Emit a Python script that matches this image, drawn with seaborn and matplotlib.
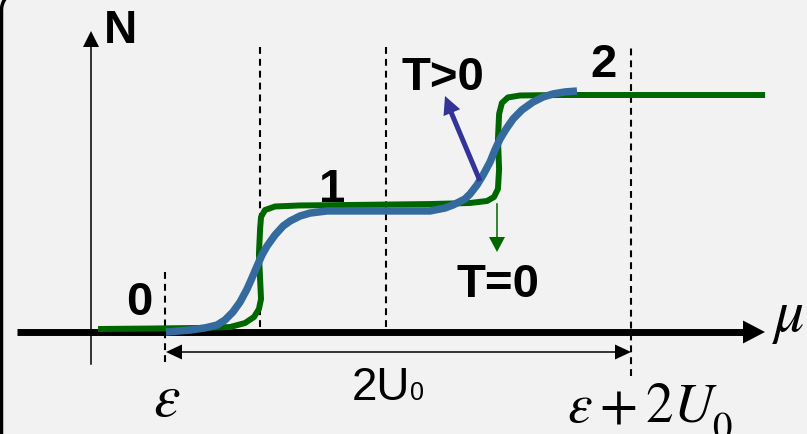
import numpy as np
import matplotlib
matplotlib.use("Agg")
import matplotlib.pyplot as plt
import seaborn as sns
from matplotlib.lines import Line2D
from matplotlib.transforms import IdentityTransform

# Occupation N versus chemical potential mu (mu in units of U0, epsilon = 0)
# T = 0: sharp steps at the two levels
green_mu = [-0.288, -0.065, 0.151, 0.280, 0.344, 0.383, 0.404, 0.413, 0.409, 0.404,
            0.409, 0.413, 0.430, 0.473, 0.581, 0.796, 1.140, 1.312, 1.385, 1.415,
            1.432, 1.437, 1.432, 1.437, 1.449, 1.475, 1.527, 1.699, 2.581]
green_n = [0.000, 0.004, 0.009, 0.017, 0.051, 0.103, 0.171, 0.256, 0.427, 0.641,
           0.855, 0.957, 1.017, 1.047, 1.056, 1.060, 1.068, 1.077, 1.094, 1.128,
           1.197, 1.368, 1.624, 1.838, 1.932, 1.979, 1.996, 2.000, 2.000]

# T > 0: thermally smeared steps
blue_mu = [0.004, 0.108, 0.172, 0.224, 0.258, 0.292, 0.323, 0.353, 0.374, 0.396,
           0.417, 0.439, 0.473, 0.508, 0.538, 0.581, 0.624, 0.697, 0.925, 1.140,
           1.204, 1.239, 1.290, 1.312, 1.342, 1.368, 1.398, 1.419, 1.441, 1.467,
           1.497, 1.535, 1.583, 1.626, 1.669, 1.720, 1.772]
blue_n = [-0.026, -0.009, 0.009, 0.034, 0.077, 0.145, 0.231, 0.342, 0.436, 0.538,
          0.632, 0.709, 0.803, 0.880, 0.923, 0.966, 0.991, 1.009, 1.009, 1.009,
          1.034, 1.060, 1.111, 1.154, 1.231, 1.316, 1.427, 1.530, 1.624, 1.709,
          1.795, 1.872, 1.940, 1.983, 2.009, 2.026, 2.034]

# Vertical dashed guides
guide_mu = [0.0, 0.409, 0.951, 2.004]
guide_top = [0.487, 2.419, 2.453, 2.419]
guide_bottom = [-0.282, 0.017, 0.017, -0.402]

plateau_labels = ["0", "1", "2"]

# page geometry (pixels) and the mu/N scale
W, H = 807, 435
X0, SX = 165.0, 232.5   # pixel column of epsilon, pixels per U0
Y0, SY = 330.0, 117.0   # pixel row of N = 0, pixels per particle


def mu(px):
    return (px - X0) / SX


def nn(py):
    return (Y0 - py) / SY


plt.rcParams["mathtext.fontset"] = "stix"

fig = plt.figure(figsize=(W / 100, H / 100), dpi=100)
fig.patch.set_facecolor("#F2F2F2")
ax = fig.add_axes([0, 0, 1, 1])
ax.set_facecolor("#F2F2F2")
ax.set_xlim(mu(0), mu(W))
ax.set_ylim(nn(H), nn(0))
ax.axis("off")

GREEN = "#006600"
BLUE = "#346A9E"
NAVY = "#333399"


def head(tip, tail, length, half, color):
    """Filled triangular arrow head; tip/tail given in pixels."""
    tx, ty = tip
    dx, dy = tip[0] - tail[0], tip[1] - tail[1]
    d = (dx * dx + dy * dy) ** 0.5
    ux, uy = dx / d, dy / d
    bx, by = tx - ux * length, ty - uy * length
    px_, py_ = -uy, ux
    xs = [tx, bx + px_ * half, bx - px_ * half]
    ys = [ty, by + py_ * half, by - py_ * half]
    ax.fill([mu(x) for x in xs], [nn(y) for y in ys], color=color, lw=0, zorder=6)


# dashed guides
for m, top, bot in zip(guide_mu, guide_top, guide_bottom):
    ax.plot([m, m], [bot, top], color="black", lw=1.5, ls=(0, (3.3, 2.4)), zorder=1)

# mu axis (thick) with arrow head
ax.plot([mu(17), mu(745)], [nn(333), nn(333)], color="black", lw=5.0,
        solid_capstyle="butt", zorder=2)
head((765, 333), (17, 333), 22, 11.5, "black")

# N axis (thin)
ax.plot([mu(91), mu(91)], [nn(365), nn(46)], color="black", lw=1.1, zorder=2)
head((91, 32), (91, 365), 16, 8, "black")

# 2U0 span arrow
ax.plot([mu(180), mu(617)], [nn(353), nn(353)], color="black", lw=1.1, zorder=2)
head((166, 353), (631, 353), 16, 7.5, "black")
head((631, 353), (166, 353), 16, 7.5, "black")

# curves
sns.lineplot(x=green_mu, y=green_n, sort=False, estimator=None, color=GREEN,
             lw=4.3, ax=ax, zorder=4, solid_capstyle="butt", solid_joinstyle="round")
sns.lineplot(x=blue_mu, y=blue_n, sort=False, estimator=None, color=BLUE,
             lw=5.4, ax=ax, zorder=5, solid_capstyle="butt", solid_joinstyle="round")

# T>0 pointer
ax.plot([mu(480), mu(451)], [nn(182), nn(113)], color=NAVY, lw=3.6,
        solid_capstyle="butt", zorder=6)
head((445, 97), (480, 182), 18, 9, NAVY)

# T=0 pointer
ax.plot([mu(497), mu(497)], [nn(205), nn(240)], color=GREEN, lw=1.1, zorder=6)
head((497, 253), (497, 205), 15, 8, GREEN)

SANS = "Liberation Sans"
bold = dict(family=SANS, fontweight="bold", fontsize=34, ha="center",
            va="baseline", color="black", zorder=7)

ax.text(mu(120), nn(43), "N", **{**bold, "fontsize": 33})
for lab, (x, y) in zip(plateau_labels, [(139, 315), (332, 202), (603, 77)]):
    ax.text(mu(x), nn(y), lab, **bold)
ax.text(mu(443), nn(90), "T>0", **bold)
ax.text(mu(498), nn(297), "T=0", **bold)

ax.text(mu(352), nn(400), "2U", family=SANS, fontsize=33, ha="left", va="baseline")
ax.text(mu(410), nn(400), "0", family=SANS, fontsize=18, ha="left", va="baseline")

ax.text(mu(167), nn(416), r"$\varepsilon$", fontsize=43, ha="center", va="baseline")
ax.text(mu(567), nn(422), r"$\varepsilon+2U$", fontsize=40, ha="left", va="baseline")
ax.text(mu(712), nn(439), r"$\mathrm{0}$", fontsize=28, ha="left", va="baseline")
ax.text(mu(772), nn(331), r"$\mu$", fontsize=43, ha="left", va="baseline")

# rounded frame corner at the top left, the rest of the frame lies off the page
r, cx, cy = 20.0, 21.5, 11.3
ang = np.linspace(np.pi, np.pi + np.arcsin(cy / r) + 0.35, 30)
fx = [1.5] + list(cx + r * np.cos(ang))
fy = [H + 5] + list(cy + r * np.sin(ang))
frame = Line2D(fx, [H - y for y in fy], transform=IdentityTransform(),
               color="black", lw=2.5, solid_capstyle="butt")
fig.add_artist(frame)

fig.savefig("out.png", dpi=100, facecolor=fig.get_facecolor())
